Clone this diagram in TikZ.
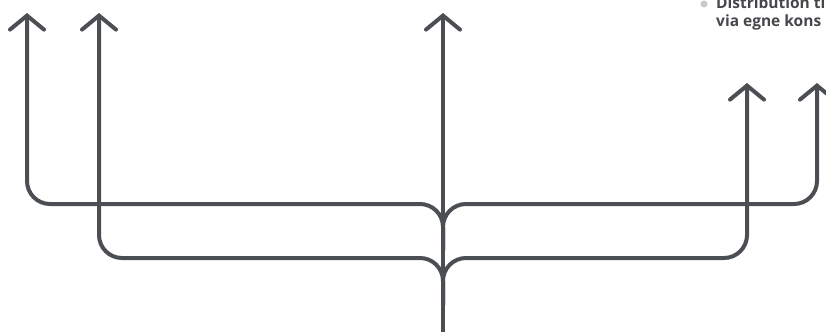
\documentclass[tikz,border=0pt]{standalone}
\usepackage{fontspec}
\setmainfont{Open Sans}
\usetikzlibrary{arrows.meta}
\definecolor{linegray}{HTML}{4B4E53}
\definecolor{textgray}{HTML}{45474B}
\definecolor{dotgray}{HTML}{C9CACC}
\begin{document}
\begin{tikzpicture}[x=1pt,y=-1pt]
        \tikzstyle{flow} = [draw=linegray, line width=4pt, line join=round,
            -{Straight Barb[length=14pt, width=34pt, line cap=round]}]
        \tikzstyle{label} = [anchor=base west, inner sep=0pt, text=textgray,
            font=\fontsize{15.5}{16}\selectfont\bfseries]

        \useasboundingbox (0,0) rectangle (826,332);

        % stem and the points where the branches leave it
        \coordinate (root) at (443,332);
        \coordinate (forkup) at (443,250);
        \coordinate (forklow) at (443,305);

        % branch corners and arrow ends
        \foreach \name/\x/\y in {
            bendA/27/204, bendB/99/258, bendD/747/258, bendE/817/204,
            tipA/27/13, tipB/99/13, tipC/443/13, tipD/747/83, tipE/817/83
        } {
            \coordinate (\name) at (\x,\y);
        }

        \draw[flow] (root) -- (tipC);
        \draw[flow, rounded corners=23pt] (forkup) |- (bendA) -- (tipA);
        \draw[flow, rounded corners=23pt] (forkup) |- (bendE) -- (tipE);
        \draw[flow, rounded corners=23pt] (forklow) |- (bendB) -- (tipB);
        \draw[flow, rounded corners=23pt] (forklow) |- (bendD) -- (tipD);

        \fill[dotgray] (704,4) circle (3.5);
        \node[label] (line1) at (716,9) {Distribution ti};
        \node[label] (line2) at (716,26) {via egne kons};
    \end{tikzpicture}
\end{document}
